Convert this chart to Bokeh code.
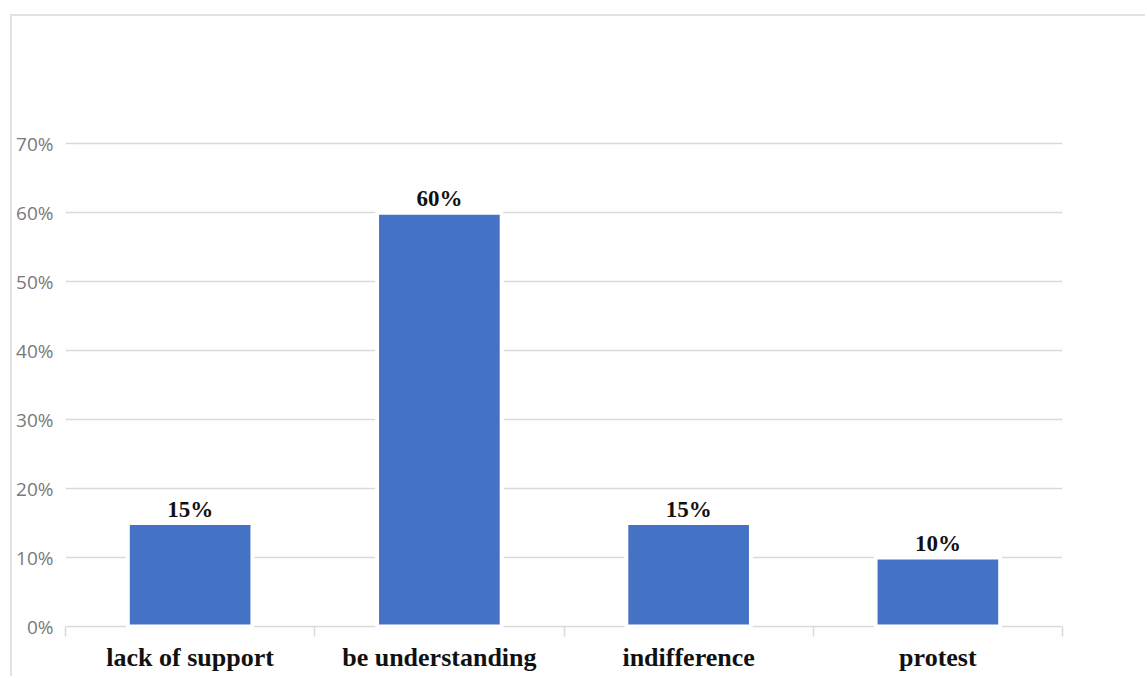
import numpy as np
from bokeh.plotting import figure
from bokeh.models import Range1d, FixedTicker, NumeralTickFormatter
from bokeh.core.properties import value
from bokeh.embed import file_html
from bokeh.resources import INLINE

# Survey answers and their shares
categories = ["lack of support", "be understanding", "indifference", "protest"]
shares = [0.15, 0.60, 0.15, 0.10]
share_labels = ["15%", "60%", "15%", "10%"]
y_ticks = [0.0, 0.1, 0.2, 0.3, 0.4, 0.5, 0.6, 0.7]

W, H = 1135, 662
BAR_COLOR = "#4472C4"
GRID_COLOR = "#d9d9d9"
FRAME_COLOR = "#e3e3e3"

n = len(categories)
centers = list(np.arange(n) + 0.5)
bounds = list(np.arange(n + 1).astype(float))

p = figure(
    width=W, height=H,
    output_backend="svg", toolbar_location=None,
    x_range=Range1d(0, n),
    y_range=Range1d(-0.0058, 0.8846),
    min_border_left=53, min_border_right=85,
    min_border_top=0, min_border_bottom=48,
)
p.outline_line_color = None
p.background_fill_color = "white"
p.border_fill_color = "white"

# thin light frame on the top and left side of the chart box
p.margin = (14, 0, 0, 10)
p.styles = {"border-left": f"2px solid {FRAME_COLOR}",
            "border-top": f"2px solid {FRAME_COLOR}"}

# value axis
yax = p.yaxis[0]
yax.ticker = FixedTicker(ticks=y_ticks)
yax.formatter = NumeralTickFormatter(format="0%")
yax.axis_line_color = None
yax.major_tick_line_color = None
yax.minor_tick_line_color = None
yax.major_tick_out = 0
yax.major_tick_in = 0
yax.major_label_standoff = 12
yax.major_label_text_font = "Open Sans"
yax.major_label_text_font_size = "19px"
yax.major_label_text_color = "#7a7a7a"

# category axis: labels at bar centres, separators at category bounds
xax = p.xaxis[0]
xax.ticker = FixedTicker(ticks=centers, minor_ticks=bounds)
xax.major_label_overrides = {c: lab for c, lab in zip(centers, categories)}
xax.axis_line_color = None
xax.major_tick_line_color = None
xax.major_tick_out = 0
xax.major_tick_in = 0
xax.minor_tick_line_color = GRID_COLOR
xax.minor_tick_line_width = 1.5
xax.minor_tick_in = 4
xax.minor_tick_out = 6
xax.major_label_standoff = 6
xax.major_label_text_font = "Liberation Serif"
xax.major_label_text_font_style = "bold"
xax.major_label_text_font_size = "26px"
xax.major_label_text_color = "#111111"

p.xgrid.visible = False
p.ygrid.grid_line_color = GRID_COLOR
p.ygrid.grid_line_width = 1.5

p.vbar(x=centers, top=shares, bottom=0, width=0.5,
       fill_color=BAR_COLOR, line_color="white", line_width=4)

p.text(x=centers, y=shares, text=share_labels,
       y_offset=-14, text_align="center", text_baseline="alphabetic",
       text_font=value("Liberation Serif"), text_font_style="bold",
       text_font_size="23px", text_color="#111111")

open("out.html", "w").write(file_html(p, INLINE))
